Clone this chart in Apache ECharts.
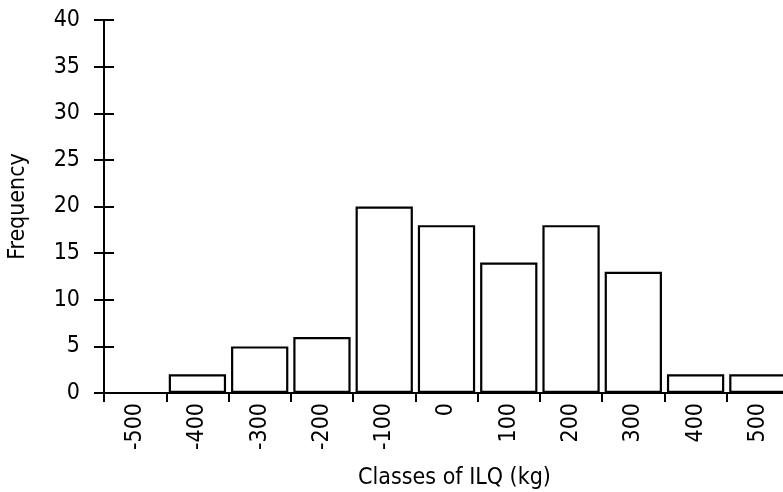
<!DOCTYPE html>
<html>
<head>
<meta charset="utf-8">
<script src="https://cdn.jsdelivr.net/npm/echarts@6/dist/echarts.min.js"></script>
<style>
html,body{margin:0;padding:0;background:#fff;}
#c{width:783px;height:492px;}
</style>
</head>
<body>
<div id="c"></div>
<script>
const categories = ['-500','-400','-300','-200','-100','0','100','200','300','400','500'];
const frequency = [0, 2, 5, 6, 20, 18, 14, 18, 13, 2, 2];
const yTicks = {min: 0, max: 40, interval: 5};

const FONT = '"DejaVu Sans Condensed", "DejaVu Sans", sans-serif';
const FS = 23;
const chart = echarts.init(document.getElementById('c'), null, {renderer: 'canvas'});
chart.setOption({
  animation: false,
  backgroundColor: '#fff',
  textStyle: {fontFamily: FONT, color: '#000'},
  grid: {left: 104, right: -6, top: 20, bottom: 99, containLabel: false, outerBoundsMode: 'none'},
  xAxis: {
    type: 'category',
    data: categories,
    name: 'Classes of ILQ (kg)',
    nameLocation: 'middle',
    nameGap: 74,
    nameTextStyle: {fontFamily: FONT, fontSize: FS, color: '#000', verticalAlign: 'top', padding: [0, 0, 0, 16]},
    axisLine: {lineStyle: {color: '#000', width: 2}},
    axisTick: {show: true, length: 9, lineStyle: {color: '#000', width: 2}},
    axisLabel: {rotate: 90, margin: 10, fontFamily: FONT, fontSize: FS, color: '#000', interval: 0},
    splitLine: {show: false}
  },
  yAxis: [{
    type: 'value',
    min: yTicks.min, max: yTicks.max, interval: yTicks.interval,
    name: 'Frequency',
    nameLocation: 'middle',
    nameGap: 74,
    nameTextStyle: {fontFamily: FONT, fontSize: FS, color: '#000'},
    axisLine: {show: true, lineStyle: {color: '#000', width: 2}},
    axisTick: {show: true, length: 10, lineStyle: {color: '#000', width: 2}},
    axisLabel: {margin: 24, fontFamily: FONT, fontSize: FS, color: '#000'},
    splitLine: {show: false}
  }, {
    type: 'value',
    position: 'left',
    min: yTicks.min, max: yTicks.max, interval: yTicks.interval,
    axisLine: {show: false},
    axisTick: {show: true, inside: true, length: 10, lineStyle: {color: '#000', width: 2}},
    axisLabel: {show: false},
    splitLine: {show: false}
  }],
  series: [{
    type: 'bar',
    data: frequency,
    yAxisIndex: 0,
    barCategoryGap: '8%',
    itemStyle: {color: '#fff', borderColor: '#000', borderWidth: 2.2}
  }]
});
</script>
</body>
</html>
